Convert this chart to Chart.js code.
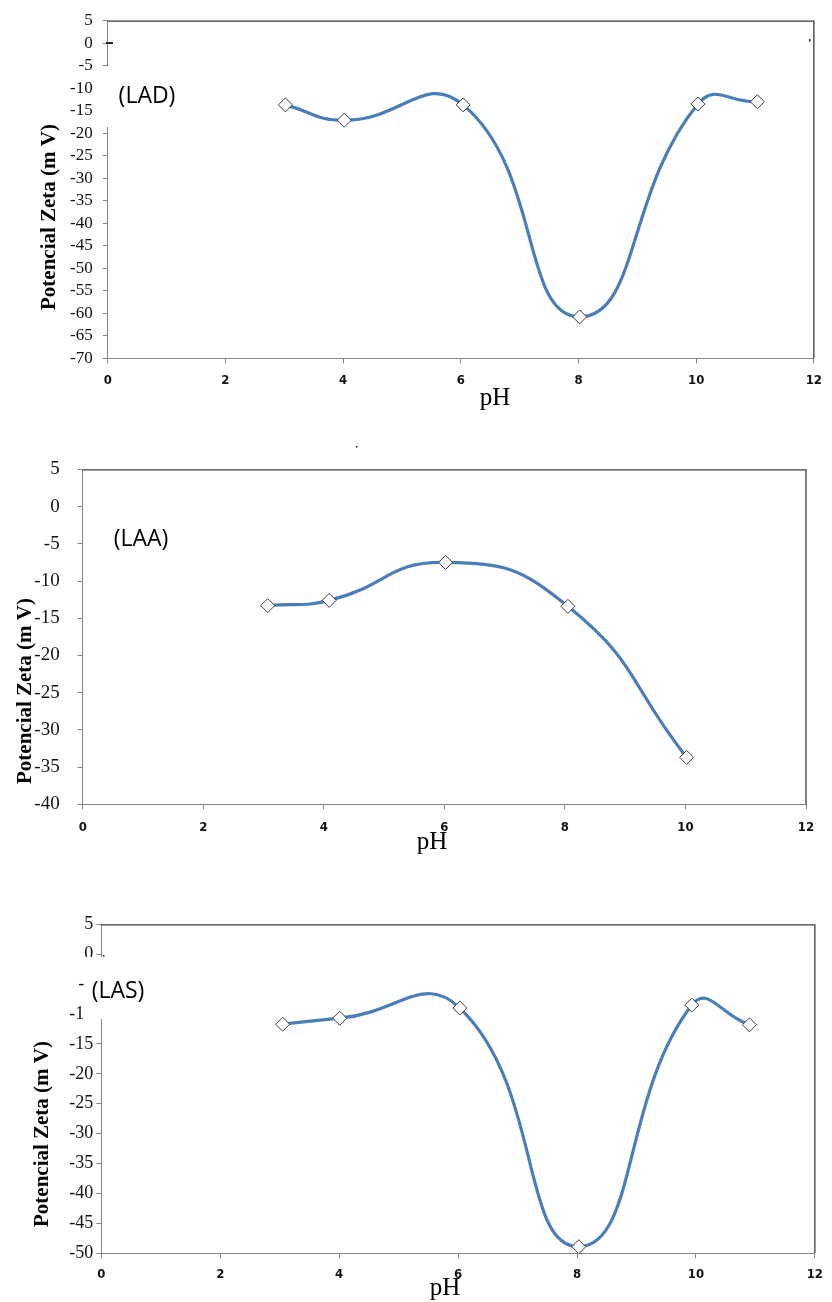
<!DOCTYPE html>
<html>
<head>
<meta charset="utf-8">
<script src="https://cdn.jsdelivr.net/npm/chart.js@4.4.1/dist/chart.umd.min.js"></script>
<style>
  body { margin: 0; background: #fff; }
  canvas { display: block; }
</style>
</head>
<body>
<canvas id="lad" width="832" height="440"></canvas>
<canvas id="laa" width="832" height="440"></canvas>
<canvas id="las" width="832" height="422"></canvas>
<script>
// LAD
const ladPH = [3.02, 4.02, 6.04, 8.02, 10.03, 11.04];
const ladZeta = [-13.7, -17.1, -13.7, -60.8, -13.5, -13.0];
// LAA
const laaPH = [3.07, 4.09, 6.02, 8.05, 10.02];
const laaZeta = [-13.3, -12.6, -7.5, -13.4, -33.7];
// LAS
const lasPH = [3.05, 4.01, 6.03, 8.03, 9.93, 10.9];
const lasZeta = [-11.7, -10.7, -9.0, -48.9, -8.5, -11.8];

const xTicks = [0, 2, 4, 6, 8, 10, 12];
const yTitle = 'Potencial Zeta (m V)';
const xTitle = 'pH';

Chart.defaults.animation = false;

function makeChart(id, xs, ys, yMin, g) {
  const canvas = document.getElementById(id);
  const H = canvas.height;

  const extras = {
    id: 'extras',
    afterDraw(chart) {
      const ctx = chart.ctx;
      const a = chart.chartArea;
      ctx.save();
      // top and right frame
      ctx.strokeStyle = '#3c3c3c';
      ctx.lineWidth = 1.3;
      ctx.beginPath();
      ctx.moveTo(a.left, a.top + 0.5);
      ctx.lineTo(a.right, a.top + 0.5);
      ctx.lineTo(a.right, a.bottom);
      ctx.stroke();

      if (g.mask) {
        ctx.fillStyle = '#fff';
        ctx.fillRect(g.mask[0], g.mask[1], g.mask[2], g.mask[3]);
      }
      // little stray marks of the scanned original
      ctx.fillStyle = '#222';
      (g.specks || []).forEach(s => ctx.fillRect(s[0], s[1], s[2], s[3]));

      ctx.fillStyle = '#000';
      ctx.textAlign = 'center';
      ctx.textBaseline = 'middle';
      ctx.font = '23px "Open Sans"';
      ctx.fillText(g.label, g.labelX, g.labelY);

      ctx.font = '25px "Liberation Serif"';
      ctx.fillText(xTitle, g.phX, g.phY);

      ctx.translate(g.titleX, g.titleY);
      ctx.rotate(-Math.PI / 2);
      ctx.font = 'bold 21px "Liberation Serif"';
      ctx.fillText(yTitle, 0, 0);
      ctx.restore();
    }
  };

  return new Chart(canvas, {
    type: 'scatter',
    data: {
      datasets: [{
        data: xs.map((x, i) => ({ x: x, y: ys[i] })),
        showLine: true,
        borderColor: '#4a7ebb',
        borderWidth: 3.2,
        tension: 0.5,
        pointStyle: 'rectRot',
        pointRadius: 7,
        pointBorderWidth: 1,
        pointBorderColor: '#3a3a3a',
        pointBackgroundColor: '#fff'
      }]
    },
    options: {
      responsive: false,
      devicePixelRatio: 1,
      layout: {
        padding: { left: 0, top: g.top, right: 832 - g.right, bottom: 0 }
      },
      plugins: {
        legend: { display: false },
        tooltip: { enabled: false }
      },
      scales: {
        x: {
          type: 'linear',
          min: 0,
          max: 12,
          afterBuildTicks: (axis) => { axis.ticks = xTicks.map(v => ({ value: v })); },
          afterFit: (axis) => { axis.height = H - g.bottom; },
          grid: { drawOnChartArea: false, drawTicks: true, tickLength: 5, color: '#868686' },
          border: { color: '#868686', width: 1 },
          ticks: {
            autoSkip: false,
            maxRotation: 0,
            padding: g.xPad,
            color: '#111',
            font: { family: '"Liberation Sans Narrow", "DejaVu Sans Condensed", sans-serif', size: 13, weight: 'bold' }
          }
        },
        y: {
          min: yMin,
          max: 5,
          afterFit: (axis) => { axis.width = g.left; },
          grid: { drawOnChartArea: false, drawTicks: true, tickLength: 5, color: '#868686' },
          border: { color: '#868686', width: 1 },
          ticks: {
            autoSkip: false,
            stepSize: 5,
            padding: g.yPad,
            color: '#111',
            font: { family: '"Liberation Serif"', size: g.yFont }
          }
        }
      }
    },
    plugins: [extras]
  });
}

makeChart('lad', ladPH, ladZeta, -70, {
  left: 107.7, right: 824, top: 20.7, bottom: 358.3,
  yPad: 10, xPad: 10, yFont: 17,
  label: '(LAD)', labelX: 147, labelY: 96,
  mask: [99, 66, 91, 61],
  specks: [[106, 42, 7, 2], [809, 39, 1.5, 2.5]],
  titleX: 50, titleY: 217, phX: 495, phY: 398
});

makeChart('laa', laaPH, laaZeta, -40, {
  left: 82.7, right: 806, top: 29, bottom: 364.3,
  yPad: 18, xPad: 11, yFont: 19,
  label: '(LAA)', labelX: 141, labelY: 99,
  mask: null,
  specks: [[356, 6, 1.5, 1.5]],
  titleX: 26, titleY: 251, phX: 432, phY: 402
});

makeChart('las', lasPH, lasZeta, -50, {
  left: 101.3, right: 823, top: 44.3, bottom: 373.3,
  yPad: 3, xPad: 9, yFont: 18,
  label: '(LAS)', labelX: 118, labelY: 111,
  mask: [85, 77, 105, 62],
  specks: [[103, 75, 1.5, 1.5]],
  titleX: 43, titleY: 254, phX: 445, phY: 408
});
</script>
</body>
</html>
